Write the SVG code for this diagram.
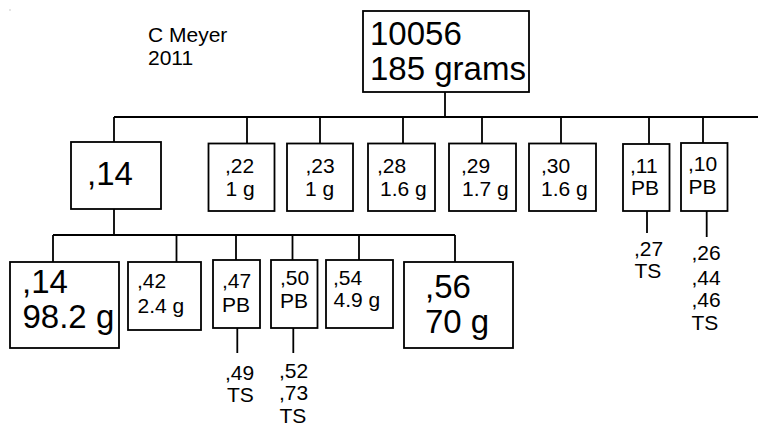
<svg xmlns="http://www.w3.org/2000/svg" width="758" height="428" viewBox="0 0 758 428">
<style>
.box{fill:#fff;stroke:#000;stroke-width:1.8}
.ln{stroke:#000;stroke-width:1.8;fill:none}
text{font-family:"Liberation Sans",Arial,sans-serif;fill:#000}
.s{font-size:21px}
.b{font-size:33px}
</style>
<rect x="9.5" y="9.5" width="1" height="1" fill="#999"/>
<g id="connectors">
<path class="ln" d="M445 92V117M114 117H758M114 117V142M247 117V143.5M320 117V143.5M403 117V143.5M482 117V143.5M561 117V143.5M649 117V144M703 117V143"/>
<path class="ln" d="M114 209V235M53 235H455M53 235V262M176.5 235V262M236 235V260M292.5 235V260M359 235V260M455 235V262"/>
<path class="ln" d="M237.3 328V353M293.3 328V353M647 211V233M706.7 211V237"/>
</g>
<g id="author">
<text class="s" x="148" y="42">C Meyer</text>
<text class="s" x="148" y="65">2011</text>
</g>
<g id="n10056">
<rect class="box" x="363" y="11" width="166" height="81"/>
<text class="b" x="370" y="45">10056</text>
<text class="b" x="370" y="80">185 grams</text>
</g>
<g id="n14">
<rect class="box" x="71" y="142" width="90" height="67"/>
<text class="b" x="87" y="185">,14</text>
</g>
<g id="n22">
<rect class="box" x="208.5" y="143.5" width="66" height="67.5"/>
<text class="s" x="225" y="173">,22</text>
<text class="s" x="225.5" y="196">1 g</text>
</g>
<g id="n23">
<rect class="box" x="287" y="143.5" width="66" height="67.5"/>
<text class="s" x="305.5" y="173">,23</text>
<text class="s" x="305" y="196">1 g</text>
</g>
<g id="n28">
<rect class="box" x="368" y="143.5" width="67" height="67.5"/>
<text class="s" x="377" y="173">,28</text>
<text class="s" x="380" y="196">1.6 g</text>
</g>
<g id="n29">
<rect class="box" x="449" y="143.5" width="67" height="67.5"/>
<text class="s" x="461" y="173">,29</text>
<text class="s" x="462" y="196">1.7 g</text>
</g>
<g id="n30">
<rect class="box" x="529" y="143.5" width="67" height="67.5"/>
<text class="s" x="541" y="173">,30</text>
<text class="s" x="541" y="196">1.6 g</text>
</g>
<g id="n11">
<rect class="box" x="623" y="144" width="46.5" height="67"/>
<text class="s" x="630" y="173">,11</text>
<text class="s" x="631" y="195">PB</text>
</g>
<g id="n10">
<rect class="box" x="681" y="143" width="46.5" height="68"/>
<text class="s" x="688" y="171">,10</text>
<text class="s" x="688.5" y="193.5">PB</text>
</g>
<g id="n27">
<text class="s" x="634" y="256">,27</text>
<text class="s" x="634.5" y="277.5">TS</text>
</g>
<g id="n26">
<text class="s" x="691.5" y="260">,26</text>
<text class="s" x="691.5" y="285">,44</text>
<text class="s" x="691.5" y="307">,46</text>
<text class="s" x="691.5" y="330">TS</text>
</g>
<g id="n14b">
<rect class="box" x="10" y="262" width="109" height="86"/>
<text class="b" x="22" y="293">,14</text>
<text class="b" x="22.5" y="328">98.2 g</text>
</g>
<g id="n42">
<rect class="box" x="128" y="262" width="73" height="68"/>
<text class="s" x="137" y="288">,42</text>
<text class="s" x="137.5" y="313">2.4 g</text>
</g>
<g id="n47">
<rect class="box" x="213" y="260" width="47" height="68"/>
<text class="s" x="222" y="288">,47</text>
<text class="s" x="222" y="311.5">PB</text>
</g>
<g id="n50">
<rect class="box" x="271" y="260" width="46.5" height="68"/>
<text class="s" x="280" y="285">,50</text>
<text class="s" x="280" y="308">PB</text>
</g>
<g id="n54">
<rect class="box" x="326" y="260" width="67" height="68"/>
<text class="s" x="333" y="285">,54</text>
<text class="s" x="333.5" y="307">4.9 g</text>
</g>
<g id="n56">
<rect class="box" x="404" y="262" width="109" height="86"/>
<text class="b" x="425" y="298">,56</text>
<text class="b" x="425" y="333">70 g</text>
</g>
<g id="n49">
<text class="s" x="225" y="380">,49</text>
<text class="s" x="227" y="401.5">TS</text>
</g>
<g id="n52">
<text class="s" x="279" y="378">,52</text>
<text class="s" x="279" y="400">,73</text>
<text class="s" x="279.5" y="423">TS</text>
</g>
</svg>
